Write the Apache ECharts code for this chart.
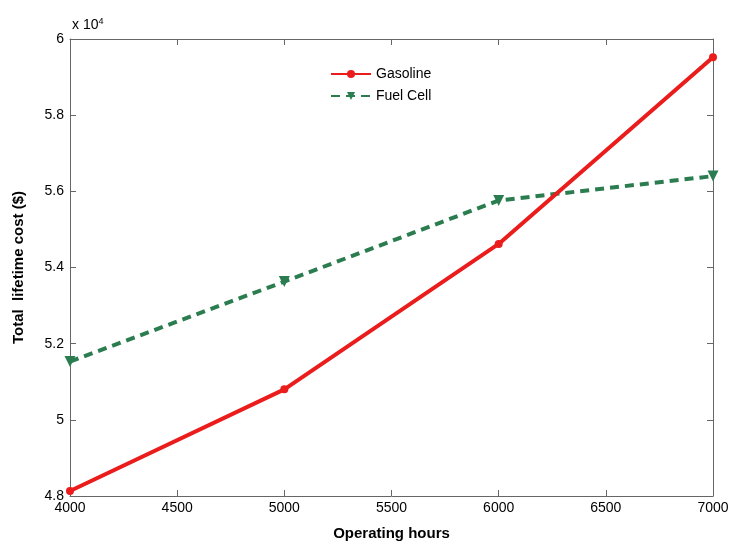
<!DOCTYPE html>
<html>
<head>
<meta charset="utf-8">
<script src="https://cdn.jsdelivr.net/npm/echarts@6/dist/echarts.min.js"></script>
<style>html,body{margin:0;padding:0;background:#fff}#c{width:732px;height:546px}</style>
</head>
<body>
<div id="c"></div>
<script>
const hours = [4000, 5000, 6000, 7000];
const gasoline = [48130, 50800, 54620, 59520];
const fuelCell = [51530, 53630, 55760, 56400];
const seriesNames = ['Gasoline', 'Fuel Cell'];

const chart = echarts.init(document.getElementById('c'));
const axisCol = '#666';
const font = 'Liberation Sans, Arial, sans-serif';
const toPairs = (xs, ys) => xs.map((x, i) => [x, ys[i]]);

chart.setOption({
  animation: false,
  backgroundColor: '#fff',
  textStyle: { fontFamily: font },
  grid: { left: 70, right: 19, top: 39, bottom: 47 },
  legend: {
    left: 325, top: 62, orient: 'vertical', itemGap: 8, itemWidth: 40, itemHeight: 10,
    textStyle: { fontFamily: font, fontSize: 14, color: '#000' },
    data: seriesNames
  },
  xAxis: [{
    type: 'value', min: 4000, max: 7000, interval: 500,
    name: 'Operating hours', nameLocation: 'middle', nameGap: 30,
    nameTextStyle: { fontFamily: font, fontSize: 15, fontWeight: 'bold', color: '#000' },
    axisLine: { show: true, lineStyle: { color: axisCol, width: 1 } },
    axisTick: { show: true, inside: true, length: 6, lineStyle: { color: axisCol } },
    axisLabel: { color: '#000', fontSize: 14, margin: 5, fontFamily: font, formatter: v => String(v) },
    splitLine: { show: false }
  }, {
    type: 'value', min: 4000, max: 7000, interval: 500, position: 'top',
    axisLine: { show: true, lineStyle: { color: axisCol, width: 1 } },
    axisTick: { show: true, inside: true, length: 6, lineStyle: { color: axisCol } },
    axisLabel: { show: false }, splitLine: { show: false }
  }],
  yAxis: [{
    type: 'value', min: 48000, max: 60000, interval: 2000,
    name: 'Total  lifetime cost ($)', nameLocation: 'middle', nameGap: 44,
    nameTextStyle: { fontFamily: font, fontSize: 15, fontWeight: 'bold', color: '#000' },
    axisLine: { show: true, lineStyle: { color: axisCol, width: 1 } },
    axisTick: { show: true, inside: true, length: 6, lineStyle: { color: axisCol } },
    axisLabel: { color: '#000', fontSize: 14, margin: 6, fontFamily: font,
      formatter: v => String(+(v / 10000).toFixed(1)) },
    splitLine: { show: false }
  }, {
    type: 'value', min: 48000, max: 60000, interval: 2000, position: 'right',
    axisLine: { show: true, lineStyle: { color: axisCol, width: 1 } },
    axisTick: { show: true, inside: true, length: 6, lineStyle: { color: axisCol } },
    axisLabel: { show: false }, splitLine: { show: false }
  }],
  graphic: [{
    type: 'text', left: 72, top: 17,
    style: {
      text: '{b|x 10}{s|4}',
      rich: {
        b: { fontFamily: font, fontSize: 14, fill: '#000' },
        s: { fontFamily: font, fontSize: 9, fill: '#000', verticalAlign: 'top', padding: [0, 0, 8, 0] }
      }
    }
  }],
  series: [{
    name: seriesNames[0], type: 'line', data: toPairs(hours, gasoline),
    color: '#ea1c1c',
    lineStyle: { width: 4, color: '#ea1c1c' },
    symbol: 'circle', symbolSize: 8,
    itemStyle: { color: '#ea1c1c' }, z: 3
  }, {
    name: seriesNames[1], type: 'line', data: toPairs(hours, fuelCell),
    color: '#2b7d50',
    lineStyle: { width: 4, color: '#2b7d50', type: [9, 6] },
    symbol: 'triangle', symbolRotate: 180, symbolSize: 11,
    itemStyle: { color: '#2b7d50' }, z: 2
  }]
});
</script>
</body>
</html>
